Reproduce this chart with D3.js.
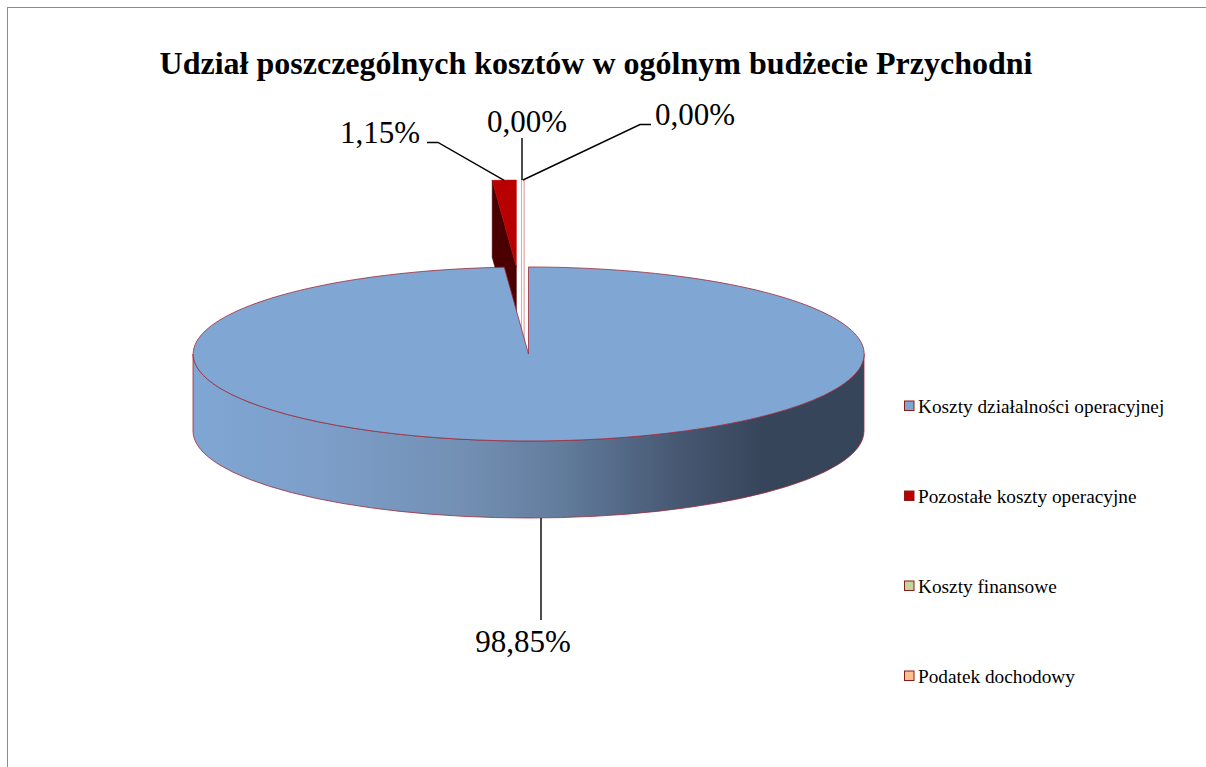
<!DOCTYPE html>
<html><head><meta charset="utf-8">
<script src="https://cdn.jsdelivr.net/npm/d3@7"></script>
<style>body{margin:0;background:#fff}svg{display:block}</style>
</head><body>
<svg id="c" width="1206" height="767"></svg>
<script>
// ---- data ----
const categories = ["Koszty działalności operacyjnej","Pozostałe koszty operacyjne","Koszty finansowe","Podatek dochodowy"];
const values = [98.85, 1.15, 0.00, 0.00];
const labels = ["98,85%","1,15%","0,00%","0,00%"];
const title = "Udział poszczególnych kosztów w ogólnym budżecie Przychodni";

// ---- style / layout ----
const palette = ["#80A6D3","#B80000","#C3D69B","#FAC090"];
const cx = 528.5, cy = 354, rx = 335.5, ry = 87, depth = 77;
const explode = [0, 1.0, 1.0, 1.0];
const FONT = '"Liberation Serif", "Times New Roman", serif';

const svg = d3.select("#c");
svg.append("rect").attr("x",7.5).attr("y",7.5).attr("width",1250).attr("height",800)
  .attr("fill","#fff").attr("stroke","#8c8c8c").attr("stroke-width",1);

svg.append("text").attr("x",596).attr("y",74).attr("text-anchor","middle")
  .style("font-family",FONT).style("font-weight","bold").style("font-size","32px")
  .attr("fill","#000").text(title);

const defs = svg.append("defs");
const g1 = defs.append("linearGradient").attr("id","side").attr("gradientUnits","userSpaceOnUse")
  .attr("x1",cx-rx).attr("x2",cx+rx).attr("y1",0).attr("y2",0);
[[0,"#80A6D3"],[0.18,"#7D9FCA"],[0.4,"#7390B4"],[0.55,"#627C9C"],[0.72,"#475873"],[0.85,"#37455A"],[1,"#37455A"]]
  .forEach(([o,c])=>g1.append("stop").attr("offset",o).attr("stop-color",c));

const arcs = d3.pie().sort(null).value(d=>d).startAngle(0).endAngle(2*Math.PI)(values);
const off = arcs.map((a,i)=>{
  const m=(a.startAngle+a.endAngle)/2;
  return [explode[i]*rx*Math.sin(m), -explode[i]*ry*Math.cos(m)];
});
const pt = (t,o,dz=0)=>[cx+o[0]+rx*Math.sin(t), cy+o[1]-ry*Math.cos(t)+dz];
const P = p=>p[0].toFixed(2)+","+p[1].toFixed(2);
const outline = "#9E2A3A";

// red exploded slice
{
  const a=arcs[1], o=off[1];
  const A=[cx+o[0],cy+o[1]], O0=pt(a.startAngle,o), O1=pt(a.endAngle,o);
  svg.append("path").attr("d",`M${P(A)}L${P(O0)}L${P([O0[0],O0[1]+depth])}L${P([A[0],A[1]+depth])}Z`)
    .attr("fill","#4A0000").attr("stroke","#4A0000").attr("stroke-width",0.5);
  svg.append("path").attr("d",`M${P(A)}L${P(O0)}A${rx},${ry} 0 0 1 ${P(O1)}Z`)
    .attr("fill",palette[1]).attr("stroke",palette[1]).attr("stroke-width",0.5);
}
// zero slices (drawn as thin sliver)
[2,3].forEach(i=>{
  const a=arcs[i], o=off[i];
  const O=pt(a.startAngle,o);
  const B=[cx+o[0], cy+o[1]+depth];
  svg.append("rect").attr("x",O[0]-7).attr("y",O[1]).attr("width",2.5).attr("height",B[1]-O[1])
    .attr("fill","#fff").attr("stroke","#E0A0A0").attr("stroke-width",0.9);
});
// blue main slice
{
  const a=arcs[0];
  svg.append("path")
    .attr("d",`M${cx+rx},${cy}A${rx},${ry} 0 0 1 ${cx-rx},${cy}L${cx-rx},${cy+depth}A${rx},${ry} 0 0 0 ${cx+rx},${cy+depth}Z`)
    .attr("fill","url(#side)").attr("stroke",outline).attr("stroke-width",0.8);
  const p0=pt(a.startAngle,[0,0]), p1=pt(a.endAngle,[0,0]);
  svg.append("path").attr("d",`M${cx},${cy}L${P(p0)}A${rx},${ry} 0 1 1 ${P(p1)}Z`)
    .attr("fill",palette[0]).attr("stroke",outline).attr("stroke-width",0.8);
}

// labels + leader lines
const line = d3.line();
const redTop = pt(arcs[1].startAngle, off[1]);
const zTop = pt(arcs[2].startAngle, off[2]);
const bottomY = cy+depth+ry;
const leaders = [
  [[cx+12.5,bottomY],[cx+12.5,620]],
  [[redTop[0]+12,redTop[1]],[438,142.5],[427,142.5]],
  [[zTop[0]-6.5,zTop[1]],[zTop[0]-6.5,138]],
  [[zTop[0]-5.5,zTop[1]],[640,124.5],[651,124.5]]
];
leaders.forEach(l=>svg.append("path").attr("d",line(l)).attr("fill","none")
  .attr("stroke","#000").attr("stroke-width",1.4));
const lpos = [[523,652,"middle"],[420,143,"end"],[527,132,"middle"],[655,125,"start"]];
labels.forEach((t,i)=>svg.append("text").attr("x",lpos[i][0]).attr("y",lpos[i][1])
  .attr("text-anchor",lpos[i][2]).style("font-family",FONT).style("font-size","31px").attr("fill","#000").text(t));

// legend
const lg = svg.append("g");
categories.forEach((c,i)=>{
  const y = 406 + i*90;
  lg.append("rect").attr("x",904.5).attr("y",y-5).attr("width",9.5).attr("height",9.5)
    .attr("fill",palette[i]).attr("stroke","#8B1A1A").attr("stroke-width",1);
  lg.append("text").attr("x",918).attr("y",y+6.5).style("font-family",FONT).style("font-size","19.3px")
    .attr("fill","#000").text(c);
});
</script>
</body></html>
